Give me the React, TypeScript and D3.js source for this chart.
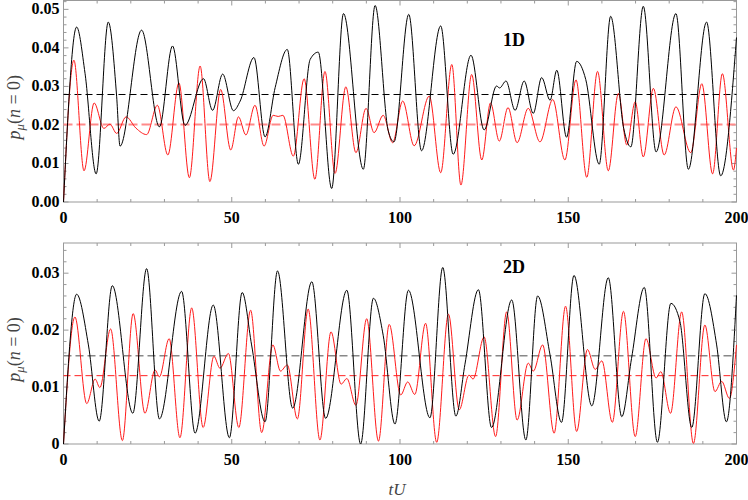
import React from "react";
import * as d3 from "d3";

// ---------- data ----------
const topBlackT = [0,3.9,6.4,9.7,13.3,15.8,16.8,23.2,28.5,32.4,36.1,41.6,44.3,47.3,50.5,52.5,56.6,59.9,62.9,66.5,69.8,73.3,75.7,79.7,83.2,89.1,92.6,96.5,98.2,102.6,106.4,112.1,115.8,121.1,125,128.7,129.6,131.5,134.2,136.9,139.6,142.1,144.6,146.6,149.5,152.5,155.2,159.2,162.6,166.5,168.6,172.3,176.1,182,185.7,191.1,195.3,200];
const topBlackV = [0,0.0454,0.0334,0.0073,0.0467,0.0273,0.0145,0.0446,0.0195,0.0405,0.0199,0.032,0.0238,0.0332,0.0237,0.0262,0.0375,0.0169,0.0297,0.0396,0.0098,0.037,0.0389,0.0035,0.0489,0.0085,0.051,0.0185,0.0156,0.0487,0.0133,0.0457,0.0124,0.0381,0.0187,0.0301,0.0296,0.0314,0.0238,0.0314,0.023,0.0323,0.0264,0.0342,0.0168,0.0365,0.0318,0.0098,0.0482,0.019,0.0143,0.0508,0.013,0.0489,0.0085,0.0467,0.0068,0.0427];

const topRedT = [0,3.1,6.1,9.1,12,13.8,15.8,18.6,21.5,24.7,27.9,31,34.3,37.4,40.6,43.5,46.7,49.7,52,54.2,56.9,59.6,62.3,63.8,65.2,68.3,71.5,74.7,77.7,80.7,83.9,86.9,89.9,92.3,95,97.8,100.8,104.2,108.7,112.1,115.4,118.1,121.3,124.3,126.9,129.5,132.1,134.8,138.1,141.6,145.4,149,152.3,155.5,158.7,161.9,164.9,167.4,169.9,172.3,175.3,178.5,182,186.4,189.7,192.9,195.8,199.1,200];
const topRedV = [0,0.0368,0.0081,0.0257,0.0191,0.0202,0.0178,0.0221,0.0192,0.0175,0.0251,0.0122,0.0309,0.0063,0.0353,0.0053,0.0292,0.0135,0.0221,0.0174,0.0251,0.0145,0.0225,0.0222,0.0225,0.0119,0.032,0.0059,0.0339,0.0074,0.0299,0.0128,0.0243,0.018,0.0225,0.0154,0.0262,0.0146,0.0275,0.0076,0.0357,0.0044,0.0331,0.0109,0.0257,0.0158,0.0245,0.0154,0.0243,0.0156,0.0266,0.0109,0.0317,0.0064,0.0339,0.0081,0.0282,0.0148,0.026,0.0117,0.0295,0.0122,0.0247,0.0128,0.0307,0.0073,0.0333,0.0083,0.014];

const botBlackT = [0,3.9,7.4,10.6,14.5,20.6,24.7,28.5,35.1,39.1,44.5,49.3,53.1,55.9,59.9,63.6,68.1,73.8,77.9,84.2,88.3,92.1,95,98.5,102.5,108.9,112.7,116.6,119.3,123.3,127.2,133.2,137.4,140.9,144.6,148,151.7,157,161.9,165.9,168.8,172.6,176.5,180.5,183.2,186.7,190.6,194.1,197,200];
const botBlackV = [0,0.0263,0.0174,0.004,0.0278,0.0054,0.0308,0.0044,0.0268,0.0019,0.0244,0.0011,0.0266,0.0174,0.0039,0.0304,0.0063,0.0285,0.0045,0.027,0.0,0.0256,0.0191,0.0035,0.027,0.0046,0.031,0.0049,0.014,0.0271,0.0029,0.0253,0.0007,0.026,0.0156,0.0038,0.0296,0.0067,0.0292,0.0048,0.015,0.0275,0.0003,0.0247,0.0215,0.0029,0.0264,0.0174,0.0039,0.0261];

const botRedT = [0,3.4,6.9,9.4,10.8,14,17.5,20.7,24.2,27.2,28.5,31.4,34.6,38.1,41.5,44.7,46.5,49,52.1,55.6,58.9,62.2,64.5,66.5,69.5,72.7,76.2,79.5,82.5,84.2,86.9,90.1,93.6,96.8,100.2,102.3,104.4,107.6,110.9,114.4,117.6,120.5,121.7,125,128.4,131.7,134.8,138.1,139.6,142.4,145.8,149.2,152.5,155.7,158,160,163.1,166.4,169.9,173.1,176.1,177.5,180.4,183.7,187.2,190.6,193.6,195.6,197.9,200];
const botRedV = [0,0.0223,0.0071,0.0114,0.0099,0.0202,0.0006,0.0229,0.0054,0.013,0.0118,0.0185,0.0011,0.0239,0.0029,0.0154,0.0133,0.0159,0.0029,0.0235,0.002,0.0174,0.0128,0.0139,0.0044,0.0237,0.0007,0.0197,0.0105,0.0115,0.0068,0.022,0.0005,0.021,0.0086,0.0109,0.0087,0.0212,0.0003,0.0228,0.006,0.0121,0.0114,0.0188,0.0013,0.0232,0.0042,0.0142,0.0128,0.0174,0.0019,0.0242,0.0022,0.0166,0.0131,0.0146,0.0038,0.0233,0.0013,0.0185,0.0116,0.0127,0.0054,0.0232,0.0001,0.0209,0.0092,0.011,0.008,0.0174];

const topMeans = [0.0279, 0.0201]; // black, red
const botMeans = [0.0155, 0.012]; // gray, red

const xTicks = [0, 50, 100, 150, 200];
const topYTicks = [0, 0.01, 0.02, 0.03, 0.04, 0.05];
const topYLabels = ["0.00", "0.01", "0.02", "0.03", "0.04", "0.05"];
const botYTicks = [0, 0.01, 0.02, 0.03];
const botYLabels = ["0", "0.01", "0.02", "0.03"];
const panelNames = ["1D", "2D"];

// ---------- layout ----------
const W = 748, H = 500;
const X0 = 63.5, X1 = 736.5;
const FRAME = "#999";
const LABEL_FONT = "'Liberation Serif', 'DejaVu Serif', serif";

function zip(t: number[], v: number[]) {
  return t.map((tt, i) => [tt, v[i]] as [number, number]);
}

type PanelProps = {
  top: number; bottom: number; yMax: number;
  yTicks: number[]; yLabels: string[];
  black: [number, number][]; red: [number, number][];
  means: number[]; meanStyles: { color: string; width: number; dash: string }[];
  name: string; nameY: number;
};

function Panel(p: PanelProps) {
  const x = d3.scaleLinear().domain([0, 200]).range([X0, X1]);
  const y = d3.scaleLinear().domain([0, p.yMax]).range([p.bottom, p.top]);
  const line = d3.line<[number, number]>()
    .x(d => x(d[0])).y(d => y(d[1]))
    .curve(d3.curveMonotoneX);
  const xMinor = d3.range(0, 201, 10);
  const yMinor = d3.range(0, p.yMax + 1e-9, 0.002);
  const isMajorY = (v: number) => p.yTicks.some(t => Math.abs(t - v) < 1e-7);
  return (
    <g>
      <rect x={X0} y={p.top} width={X1 - X0} height={p.bottom - p.top}
        fill="none" stroke={FRAME} strokeWidth={1} />
      {xMinor.map(t => {
        const len = t % 50 === 0 ? 5 : 3;
        return (
          <g key={"xt" + t}>
            <line x1={x(t)} x2={x(t)} y1={p.bottom} y2={p.bottom - len} stroke={FRAME} />
            <line x1={x(t)} x2={x(t)} y1={p.top} y2={p.top + len} stroke={FRAME} />
          </g>
        );
      })}
      {yMinor.map((v, i) => {
        const len = isMajorY(v) ? 5 : 3;
        return (
          <g key={"yt" + i}>
            <line x1={X0} x2={X0 + len} y1={y(v)} y2={y(v)} stroke={FRAME} />
            <line x1={X1} x2={X1 - len} y1={y(v)} y2={y(v)} stroke={FRAME} />
          </g>
        );
      })}
      {xTicks.map(t => (
        <text key={"xl" + t} x={x(t)} y={p.bottom + 21} textAnchor="middle"
          fontFamily={LABEL_FONT} fontWeight="bold" fontSize={16} fill="#000">{t}</text>
      ))}
      {p.yTicks.map((v, i) => (
        <text key={"yl" + i} x={X0 - 4} y={y(v) + 5} textAnchor="end"
          fontFamily={LABEL_FONT} fontWeight="bold" fontSize={16} fill="#000">{p.yLabels[i]}</text>
      ))}
      {p.means.map((m, i) => (
        <line key={"m" + i} x1={X0} x2={X1} y1={y(m)} y2={y(m)}
          stroke={p.meanStyles[i].color} strokeWidth={p.meanStyles[i].width}
          strokeDasharray={p.meanStyles[i].dash} />
      ))}
      <path d={line(p.red) || ""} fill="none" stroke="#ff1a1a" strokeWidth={1} />
      <path d={line(p.black) || ""} fill="none" stroke="#000" strokeWidth={1} />
      <text x={514} y={p.nameY} textAnchor="middle" fontFamily={LABEL_FONT}
        fontWeight="bold" fontSize={18} fill="#000">{p.name}</text>
      <text transform={`translate(20,${(p.top + p.bottom) / 2 + 6}) rotate(-90)`}
        textAnchor="middle" fontFamily={LABEL_FONT} fontSize={18} fill="#444">
        <tspan fontStyle="italic">p</tspan>
        <tspan fontStyle="italic" fontSize={13} dy={4}>μ</tspan>
        <tspan dy={-4}>(</tspan>
        <tspan fontStyle="italic">n</tspan>
        <tspan> = 0)</tspan>
      </text>
    </g>
  );
}

export default function App() {
  return (
    <svg width={W} height={H} style={{ position: "absolute", left: 0, top: 0, background: "#fff" }}>
      <Panel top={0.5} bottom={202} yMax={0.0523}
        yTicks={topYTicks} yLabels={topYLabels}
        black={zip(topBlackT, topBlackV)} red={zip(topRedT, topRedV)}
        means={topMeans}
        meanStyles={[
          { color: "#000", width: 1, dash: "7,4" },
          { color: "#ff8a8a", width: 2, dash: "9,4" },
        ]}
        name={panelNames[0]} nameY={46} />
      <Panel top={243} bottom={444} yMax={0.0353}
        yTicks={botYTicks} yLabels={botYLabels}
        black={zip(botBlackT, botBlackV)} red={zip(botRedT, botRedV)}
        means={botMeans}
        meanStyles={[
          { color: "#888", width: 1.5, dash: "8,4" },
          { color: "#ff2020", width: 1, dash: "7,4" },
        ]}
        name={panelNames[1]} nameY={273} />
      <text x={397} y={495} textAnchor="middle" fontFamily={LABEL_FONT}
        fontStyle="italic" fontSize={17} fill="#444">tU</text>
    </svg>
  );
}
